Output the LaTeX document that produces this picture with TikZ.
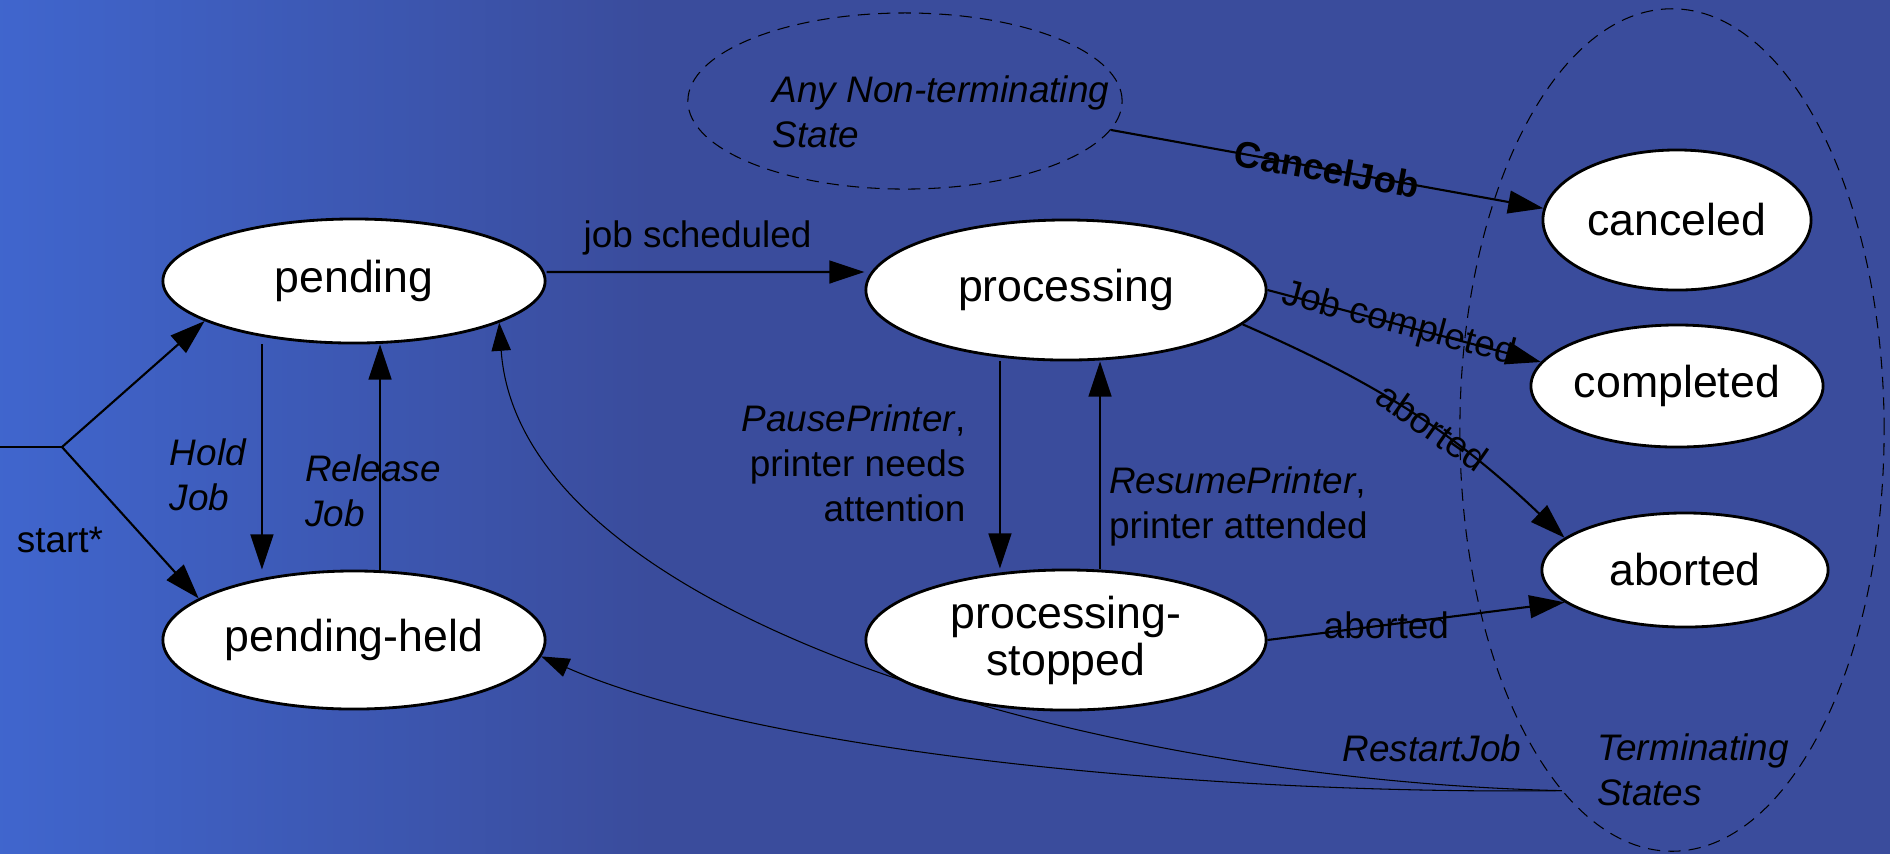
\documentclass[tikz,border=0pt]{standalone}
\usepackage{fontspec}
\setmainfont{Liberation Sans}
\usetikzlibrary{positioning, calc, shapes, arrows.meta}

\definecolor{slidebg}{RGB}{58,76,156}
\definecolor{slideglow}{RGB}{64,102,206}

\begin{document}
\begin{tikzpicture}[x=0.01cm, y=-0.01cm]
	\tikzstyle{every path}=[line width=0.6pt]
	
	\tikzstyle{jobstate}=[ellipse, draw=black, fill=white, line width=0.8pt, inner sep=0pt,
	align=center, font=\fontsize{12.7}{13.4}\selectfont]
	\tikzstyle{stategroup}=[ellipse, draw=black, line width=0.3pt, dash pattern=on 3.5pt off 2.3pt, inner sep=0pt]
	\tikzstyle{trans}=[-{Triangle[length=10pt, width=6.5pt]}]
	\tikzstyle{restart}=[line width=0.3pt, -{Triangle[length=8pt, width=5.5pt]}]
	\tikzstyle{edgetext}=[font=\fontsize{10.5}{12.8}\selectfont, inner sep=1pt]
	\tikzstyle{edgeital}=[edgetext, font=\fontsize{10.5}{12.8}\selectfont\itshape]
	
	%% Fundo do slide
	\useasboundingbox (0,0) rectangle (1890,853);
	\fill[slidebg] (-10,-10) rectangle (1900,863);
	\shade[left color=slideglow, right color=slidebg] (-10,-10) rectangle (650,863);
	
	%% Grupos tracejados
	\node[stategroup, minimum width=4.34cm, minimum height=1.76cm] (anystate) at (905,101) {};
	\node[stategroup, minimum width=4.24cm, minimum height=8.42cm] (termstates) at (1672,430) {};
	
	%% Estados do job
	\node[jobstate, minimum width=3.82cm, minimum height=1.24cm] (pending) at (354,281) {pending};
	\node[jobstate, minimum width=3.82cm, minimum height=1.38cm] (held) at (354,640) {pending-held};
	\node[jobstate, minimum width=4cm, minimum height=1.4cm] (processing) at (1066,290) {processing};
	\node[jobstate, minimum width=4cm, minimum height=1.4cm] (stopped) at (1066,640) {processing-\\stopped};
	\node[jobstate, minimum width=2.68cm, minimum height=1.4cm] (canceled) at (1677,220) {canceled};
	\node[jobstate, minimum width=2.92cm, minimum height=1.22cm] (completed) at (1677,386) {completed};
	\node[jobstate, minimum width=2.86cm, minimum height=1.14cm] (aborted) at (1685,570) {aborted};
	
	%% Entrada
	\coordinate (entry) at (0,447);
	\coordinate (fork) at (62,447);
	\draw (entry) -- (fork);
	\draw[trans] (fork) -- (pending.195);
	\draw[trans] (fork) -- (held.165);
	\node[edgetext] (startlbl) at (60,540) {start*};
	
	%% Hold / Release
	\draw[trans] ([xshift=-0.92cm]pending.south) -- ([xshift=-0.92cm]held.north)
	node[edgeital, pos=0.58, left=0.115cm, align=left] (holdlbl) {Hold\\Job};
	\draw[trans] ([xshift=0.26cm]held.north) -- ([xshift=0.26cm]pending.south)
	node[edgeital, pos=0.35, xshift=-0.07cm, align=left] (releaselbl) {Release\\Job};
	
	%% Escalonamento
	\draw[trans] ([yshift=0.09cm]pending.east) -- ([yshift=0.18cm]processing.west)
	node[edgetext, midway, above=0.12cm, xshift=-0.08cm] (schedlbl) {job scheduled};
	
	%% Pause / Resume
	\draw[trans] ([xshift=-0.66cm]processing.south) -- ([xshift=-0.66cm]stopped.north)
	node[edgetext, pos=0.49, left=0.3cm, align=right] (pauselbl) {\textit{PausePrinter},\\printer needs\\attention};
	\draw[trans] ([xshift=0.34cm]stopped.north) -- ([xshift=0.34cm]processing.south)
	node[edgetext, pos=0.3, right=0.045cm, align=left] (resumelbl) {\textit{ResumePrinter},\\printer attended};
	
	%% Estados terminais
	\draw[trans] (anystate.-8) -- (canceled.175)
	node[edgetext, midway, sloped, font=\fontsize{10.5}{12.8}\selectfont\bfseries] (cancellbl) {CancelJob};
	\draw[trans] (processing.east) -- (completed.170)
	node[edgetext, pos=0.48, sloped] (donelbl) {Job completed};
	\draw[trans] (processing.-11) to[bend left=10]
	node[edgetext, pos=0.56, sloped] (abortlbl) {aborted} (aborted.165);
	\draw[trans] (stopped.east) -- (aborted.195)
	node[edgetext, pos=0.4] (stoplbl) {aborted};
	
	%% Restart
	\draw[restart] (termstates.253) .. controls (1100,780) and (520,620) .. (pending.-16);
	\draw[restart] (termstates.253) .. controls (1200,795) and (756,751) .. (held.-5);
	\node[edgeital] (restartlbl) at (1432,748) {RestartJob};
	
	%% Rotulos dos grupos
	\node[edgeital, align=left] (termlbl) at (1693,770) {Terminating\\States};
	\node[edgeital, align=left] (anylbl) at (941,112) {Any Non-terminating\\State};
	
\end{tikzpicture}
\end{document}
